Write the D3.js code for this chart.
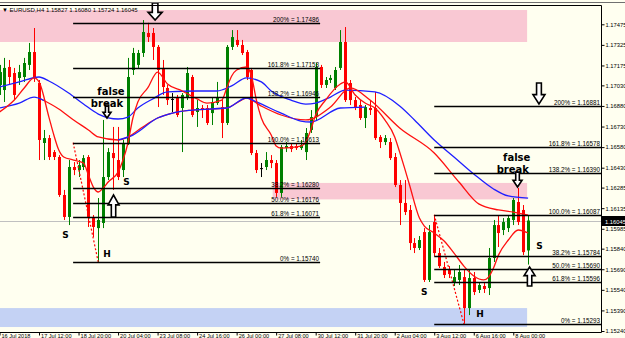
<!DOCTYPE html>
<html>
<head>
<meta charset="utf-8">
<script src="https://cdn.jsdelivr.net/npm/d3@7"></script>
<style>
    body { margin: 0; background: #fffff0; }
    svg { display: block; font-family: "Liberation Sans", Arial, sans-serif; }
</style>
</head>
<body>
<div id="chart"></div>
<script>
// EURUSD H4 bars, 16 Jul 04:00 .. 8 Aug 12:00 (index 0..107)
var barOpen = [1.17033,1.16996,1.17164,1.17120,1.17084,1.17091,1.17179,1.17273,1.17047,1.16610,
    1.16646,1.16544,1.16508,1.16231,1.16071,1.16435,1.16413,1.16435,1.16508,1.16071,
    1.15990,1.16027,1.16362,1.16537,1.16486,1.16413,1.16610,1.17142,1.17179,1.17266,
    1.17412,1.17412,1.17310,1.17157,1.17011,1.16931,1.16938,1.16865,1.16945,1.17091,
    1.16836,1.16865,1.16865,1.16828,1.16901,1.16872,1.16756,1.17310,1.17361,1.17324,
    1.17273,1.17142,1.16537,1.16427,1.16435,1.16486,1.16464,1.16246,1.16573,1.16588,
    1.16588,1.16573,1.16544,1.16705,1.16799,1.17164,1.17033,1.17069,1.17011,1.17157,
    1.17346,1.17047,1.16923,1.16887,1.16792,1.16865,1.16865,1.16654,1.16617,1.16617,
    1.16508,1.16304,1.16173,1.16122,1.15881,1.15845,1.15961,1.15612,1.16034,1.15808,
    1.15706,1.15685,1.15597,1.15612,1.15633,1.15407,1.15626,1.15539,1.15568,1.15553,
    1.15772,1.16012,1.15976,1.15990,1.16049,1.16180,1.16122,1.15827];
var barClose = [1.17127,1.17157,1.17091,1.16960,1.17127,1.17193,1.17273,1.17084,1.16632,1.16646,
    1.16508,1.16508,1.16231,1.16071,1.16435,1.16413,1.16449,1.16500,1.16071,1.15998,
    1.16049,1.16362,1.16544,1.16500,1.16362,1.16610,1.17091,1.17266,1.17266,1.17419,
    1.17382,1.17310,1.17142,1.17018,1.16923,1.16931,1.16814,1.16960,1.17120,1.16814,
    1.16865,1.16850,1.16756,1.16909,1.16945,1.16756,1.17310,1.17382,1.17324,1.17266,
    1.17091,1.16537,1.16413,1.16427,1.16486,1.16464,1.16246,1.16581,1.16588,1.16566,
    1.16573,1.16595,1.16683,1.16799,1.17164,1.17033,1.17069,1.17084,1.17142,1.17346,
    1.16923,1.16923,1.16872,1.16792,1.16872,1.16850,1.16646,1.16617,1.16646,1.16500,
    1.16304,1.16173,1.16107,1.15881,1.15845,1.15903,1.15612,1.15961,1.15808,1.15713,
    1.15648,1.15655,1.15633,1.15670,1.15407,1.15626,1.15524,1.15575,1.15546,1.15772,
    1.16012,1.15954,1.16034,1.16063,1.16195,1.16034,1.15815,1.16045];
var barHigh = [1.17179,1.17230,1.17215,1.17157,1.17179,1.17230,1.17339,1.17448,1.17069,1.16705,
    1.16668,1.16559,1.16522,1.16268,1.16486,1.16471,1.16486,1.16522,1.16522,1.16085,
    1.16209,1.16778,1.16573,1.16727,1.16727,1.16632,1.17230,1.17303,1.17288,1.17506,
    1.17486,1.17448,1.17324,1.17215,1.17033,1.16974,1.16960,1.16974,1.17164,1.17106,
    1.16923,1.16887,1.16887,1.16938,1.17055,1.16923,1.17324,1.17433,1.17433,1.17361,
    1.17288,1.17157,1.16559,1.16464,1.16544,1.16522,1.16486,1.16595,1.16617,1.16610,
    1.16610,1.16632,1.16719,1.16850,1.17193,1.17179,1.17091,1.17106,1.17164,1.17433,
    1.17455,1.17069,1.16945,1.16923,1.16887,1.16923,1.16982,1.16668,1.16668,1.16646,
    1.16537,1.16340,1.16340,1.16158,1.15917,1.15932,1.15990,1.16012,1.16085,1.15845,
    1.15743,1.15713,1.15685,1.15721,1.15685,1.15685,1.15670,1.15597,1.15590,1.15845,
    1.16049,1.16085,1.16063,1.16085,1.16209,1.16282,1.16158,1.16080];
var barLow = [1.16960,1.16909,1.17033,1.16923,1.17033,1.17055,1.17142,1.17055,1.16486,1.16486,
    1.16486,1.16486,1.16217,1.16049,1.16012,1.16376,1.16362,1.16413,1.15998,1.15925,
    1.15740,1.15990,1.16340,1.16268,1.16340,1.16362,1.16595,1.17106,1.17157,1.17237,
    1.17346,1.17215,1.16872,1.16960,1.16887,1.16836,1.16799,1.16544,1.16923,1.16799,
    1.16727,1.16792,1.16741,1.16741,1.16887,1.16646,1.16741,1.17288,1.17310,1.17251,
    1.17069,1.16522,1.16391,1.16362,1.16413,1.16427,1.16217,1.16217,1.16544,1.16544,
    1.16559,1.16559,1.16486,1.16683,1.16778,1.17011,1.17011,1.17047,1.16996,1.17142,
    1.16909,1.16887,1.16850,1.16778,1.16719,1.16814,1.16632,1.16573,1.16595,1.16486,
    1.16289,1.16012,1.16085,1.15830,1.15808,1.15830,1.15597,1.15597,1.15786,1.15699,
    1.15626,1.15626,1.15568,1.15575,1.15293,1.15356,1.15502,1.15517,1.15517,1.15502,
    1.15743,1.15852,1.15939,1.15961,1.16012,1.16012,1.15793,1.15724];

// moving averages, read at a subset of bars
var redFastIdx = [0,3,5,7,8,10,11,12,13,15,17,18,19,20,21,22,24,25,26,27,28,30,32,34,37,40,42,45,46,47,48,50,51,52,53,55,56,57,61,62,63,64,66,69,70,72,74,76,78,80,81,82,83,85,86,88,90,92,94,96,98,99,100,101,103,105,107];
var redFast = [1.16836,1.16923,1.17011,1.17084,1.17055,1.16799,1.16668,1.16559,1.16508,1.16486,1.16464,1.16376,1.16289,1.16253,1.16282,1.16326,1.16398,1.16486,1.16610,1.16792,1.16909,1.17011,1.17127,1.17040,1.16989,1.16931,1.16901,1.16923,1.17011,1.17098,1.17142,1.17164,1.17098,1.16923,1.16792,1.16668,1.16588,1.16573,1.16588,1.16617,1.16705,1.16814,1.16923,1.17040,1.17055,1.16960,1.16901,1.16865,1.16778,1.16654,1.16544,1.16427,1.16304,1.16063,1.16005,1.15954,1.15896,1.15808,1.15713,1.15641,1.15612,1.15633,1.15699,1.15793,1.15903,1.15976,1.15954];
var redSlowIdx = [8,12,15,18,20,24,26,29,32,35,39,46,49,50,53,57,62,67,71,75,81,88,93,97,101,104,107];
var redSlow = [1.16938,1.16858,1.16778,1.16705,1.16654,1.16632,1.16654,1.16727,1.16792,1.16828,1.16850,1.16865,1.16923,1.16938,1.16879,1.16814,1.16778,1.16872,1.17011,1.16923,1.16719,1.16537,1.16326,1.16166,1.16122,1.16107,1.16085];
var blueUpIdx = [0,4,8,10,14,17,20,24,26,28,31,34,40,44,47,50,53,55,59,62,64,67,70,76,81,84,88,92,96,100,103,107];
var blueUp = [1.17018,1.17055,1.17091,1.17062,1.16974,1.16894,1.16821,1.16785,1.16799,1.16865,1.16931,1.16982,1.16989,1.16989,1.17026,1.17084,1.17055,1.16989,1.16923,1.16894,1.16901,1.16945,1.16996,1.16982,1.16880,1.16778,1.16632,1.16508,1.16384,1.16275,1.16224,1.16209];
var blueLowIdx = [0,4,7,9,16,24,27,32,35,39,46,50,52,57,61,63,69,74];
var blueLow = [1.16865,1.16901,1.16945,1.16920,null,1.16632,1.16668,1.16792,1.16828,1.16850,1.16865,1.16938,1.16909,1.16828,1.16770,1.16763,1.16865,1.16872];

// fibonacci objects
var fibLevels = ["200%", "161.8%", "138.2%", "100.0%", "38.2%", "50.0%", "61.8%", "0%"];
var fibLeftPrices = [1.17486, 1.17153, 1.16946, 1.16613, 1.16280, 1.16176, 1.16071, 1.15740];
var fibRightPrices = [1.16881, 1.16578, 1.16390, 1.16087, 1.15784, 1.15690, 1.15596, 1.15293];

// axis ticks
var priceTicks = [1.17475, 1.17325, 1.17175, 1.17030, 1.16880, 1.16730, 1.16580, 1.16430,
    1.16285, 1.16135, 1.15985, 1.15840, 1.15690, 1.15540, 1.15390, 1.15240];
var timeTickIdx = [0, 8, 16, 24, 32, 40, 48, 56, 64, 72, 80, 88, 96, 104];
var timeLabels = ["16 Jul 2018", "17 Jul 12:00", "18 Jul 20:00", "20 Jul 04:00", "23 Jul 08:00",
    "24 Jul 16:00", "26 Jul 00:00", "27 Jul 08:00", "30 Jul 12:00", "31 Jul 20:00",
    "2 Aug 04:00", "3 Aug 12:00", "6 Aug 16:00", "8 Aug 00:00"];

var lastPrice = 1.16045;

var width = 625, height = 338;
var plotRight = 601, plotTop = 5, plotBottom = 332;

var x = d3.scaleLinear().domain([0, 107]).range([-0.5, 528.1]);
var y = d3.scaleLinear().domain([1.15240, 1.17475]).range([331, 24.3]);

var svg = d3.select("#chart")
    .append("svg")
    .attr("width", width)
    .attr("height", height);

svg.append("rect").attr("width", width).attr("height", height).attr("fill", "#fffff0");

svg.append("defs").append("clipPath").attr("id", "plot")
    .append("rect").attr("x", 0).attr("y", plotTop).attr("width", plotRight).attr("height", plotBottom - plotTop);

var plot = svg.append("g").attr("clip-path", "url(#plot)");

// zones (drawn as background)
var zones = [
    {from: 0, to: 106.8, top: 1.17579, bottom: 1.17346, color: "#f9c8d3"},
    {from: 55.3, to: 106.8, top: 1.16319, bottom: 1.16199, color: "#f9c8d3"},
    {from: 0, to: 106.8, top: 1.15407, bottom: 1.15269, color: "#c4d2f4"}
];
plot.selectAll("rect.zone")
    .data(zones)
    .enter()
    .append("rect")
    .attr("class", "zone")
    .attr("x", function (d) { return x(d.from); })
    .attr("width", function (d) { return x(d.to) - x(d.from); })
    .attr("y", function (d) { return y(d.top); })
    .attr("height", function (d) { return y(d.bottom) - y(d.top); })
    .attr("fill", function (d) { return d.color; });

// bid line
plot.append("line")
    .attr("x1", 0).attr("x2", plotRight)
    .attr("y1", Math.round(y(lastPrice)) + 0.5).attr("y2", Math.round(y(lastPrice)) + 0.5)
    .attr("stroke", "#c0c0c0");

// candles
var bars = d3.range(barOpen.length);
function barColor(i) {
    if (barClose[i] > barOpen[i]) return "#008000";
    if (barClose[i] < barOpen[i]) return "#ff0000";
    return "#000000";
}
var candle = plot.append("g").selectAll("g")
    .data(bars)
    .enter()
    .append("g");

candle.append("line")
    .attr("x1", function (i) { return Math.round(x(i)) + 0.5; })
    .attr("x2", function (i) { return Math.round(x(i)) + 0.5; })
    .attr("y1", function (i) { return y(barHigh[i]); })
    .attr("y2", function (i) { return y(barLow[i]); })
    .attr("stroke", barColor)
    .attr("stroke-width", 1);

candle.append("rect")
    .attr("x", function (i) { return Math.round(x(i)) - 1; })
    .attr("width", 3)
    .attr("y", function (i) { return y(Math.max(barOpen[i], barClose[i])); })
    .attr("height", function (i) { return Math.max(1, y(Math.min(barOpen[i], barClose[i])) - y(Math.max(barOpen[i], barClose[i]))); })
    .attr("fill", barColor);

// moving averages
var maLine = d3.line()
    .defined(function (d) { return d[1] != null; })
    .x(function (d) { return x(d[0]); })
    .y(function (d) { return y(d[1]); })
    .curve(d3.curveMonotoneX);

var maSeries = [
    {idx: blueUpIdx, val: blueUp, color: "#1f1fff"},
    {idx: redSlowIdx, val: redSlow, color: "#ff1010"},
    {idx: blueLowIdx, val: blueLow, color: "#1f1fff"},
    {idx: redFastIdx, val: redFast, color: "#ff1010"}
];
maSeries.forEach(function (s) {
    plot.append("path")
        .datum(d3.zip(s.idx, s.val))
        .attr("d", maLine)
        .attr("fill", "none")
        .attr("stroke", s.color)
        .attr("stroke-width", 1.3);
});

// zigzag between fib anchors
var zigzags = [
    [[14.9, fibLeftPrices[3]], [20, fibLeftPrices[7]]],
    [[88, fibRightPrices[3]], [94, fibRightPrices[7]]]
];
zigzags.forEach(function (z) {
    plot.append("line")
        .attr("x1", x(z[0][0])).attr("y1", y(z[0][1]))
        .attr("x2", x(z[1][0])).attr("y2", y(z[1][1]))
        .attr("stroke", "#ff0000")
        .attr("stroke-width", 1.2)
        .attr("stroke-dasharray", "2,2");
});

// fibonacci levels
function drawFib(prices, from, to) {
    var g = plot.append("g");
    g.selectAll("line")
        .data(prices)
        .enter()
        .append("line")
        .attr("x1", x(from)).attr("x2", x(to))
        .attr("y1", function (d) { return Math.round(y(d)) + 0.5; })
        .attr("y2", function (d) { return Math.round(y(d)) + 0.5; })
        .attr("stroke", "#000")
        .attr("stroke-width", 1.4);
    g.selectAll("text")
        .data(prices)
        .enter()
        .append("text")
        .attr("x", Math.min(x(to), plotRight) - 1)
        .attr("y", function (d) { return Math.round(y(d)) - 1; })
        .attr("text-anchor", "end")
        .attr("font-size", "6.3px")
        .attr("fill", "#000")
        .text(function (d, i) { return fibLevels[i] + " = " + d.toFixed(5); });
}
drawFib(fibLeftPrices, 14.9, 64.9);
drawFib(fibRightPrices, 88, 122);

// hollow block arrows
var arrows = [
    {i: 31.5, p: 1.17506, w: 14, h: 17, dir: 1},
    {i: 21.76, p: 1.16792, w: 8, h: 13, dir: 1},
    {i: 23.08, p: 1.16231, w: 11, h: 22, dir: -1},
    {i: 109.2, p: 1.16894, w: 12, h: 21, dir: 1},
    {i: 104.86, p: 1.16289, w: 9, h: 15, dir: 1},
    {i: 107.3, p: 1.15706, w: 11, h: 19, dir: -1}
];
function arrowPath(d) {
    var tx = x(d.i), ty = y(d.p), s = d.dir;
    var sw = d.w * 0.2, hw = d.w / 2, hh = d.h * 0.45;
    var pts = [[tx - sw, ty - s * d.h], [tx + sw, ty - s * d.h], [tx + sw, ty - s * hh],
        [tx + hw, ty - s * hh], [tx, ty], [tx - hw, ty - s * hh], [tx - sw, ty - s * hh]];
    return "M" + pts.map(function (p) { return p.join(","); }).join("L") + "Z";
}
svg.append("g").selectAll("path")
    .data(arrows)
    .enter()
    .append("path")
    .attr("d", arrowPath)
    .attr("fill", "#ffffff")
    .attr("stroke", "#000")
    .attr("stroke-width", 1.6)
    .attr("stroke-linejoin", "miter");

// text notes
var notes = [
    {i: 22.57, p: 1.16960, t: "false", s: 10},
    {i: 21.76, p: 1.16872, t: "break", s: 10},
    {i: 104.7, p: 1.16478, t: "false", s: 10},
    {i: 103.9, p: 1.16391, t: "break", s: 10},
    {i: 13.36, p: 1.15917, t: "S", s: 9},
    {i: 21.76, p: 1.15779, t: "H", s: 9},
    {i: 25.71, p: 1.16304, t: "S", s: 9},
    {i: 86.0, p: 1.15502, t: "S", s: 9},
    {i: 97.27, p: 1.15342, t: "H", s: 9},
    {i: 109.3, p: 1.15838, t: "S", s: 9}
];
svg.append("g").selectAll("text")
    .data(notes)
    .enter()
    .append("text")
    .attr("x", function (d) { return x(d.i); })
    .attr("y", function (d) { return y(d.p); })
    .attr("text-anchor", "middle")
    .attr("font-family", "'DejaVu Sans', sans-serif")
    .attr("font-weight", "bold")
    .attr("font-size", function (d) { return d.s + "px"; })
    .attr("fill", "#000")
    .text(function (d) { return d.t; });

// frame
svg.append("line").attr("x1", 0).attr("x2", width).attr("y1", 2.5).attr("y2", 2.5).attr("stroke", "#707070");
svg.append("path")
    .attr("d", "M0," + (plotTop + 0.5) + "H" + (plotRight + 0.5) + "V" + (plotBottom + 0.5) + "H0")
    .attr("fill", "none")
    .attr("stroke", "#000");

// price axis
var yAxis = svg.append("g")
    .attr("transform", "translate(" + (plotRight + 0.5) + ",0)")
    .call(d3.axisRight(y).tickValues(priceTicks).tickSize(3).tickPadding(1).tickFormat(d3.format(".5f")));
yAxis.select(".domain").remove();
yAxis.selectAll("text").attr("font-size", "5.8px").attr("font-family", "'Liberation Sans', Arial, sans-serif");

// last price box
var lp = svg.append("g").attr("transform", "translate(" + (plotRight + 1) + "," + Math.round(y(lastPrice)) + ")");
lp.append("rect").attr("x", 0).attr("y", -5).attr("width", width - plotRight).attr("height", 10).attr("fill", "#000");
lp.append("text").attr("x", 3).attr("y", 2.5).attr("fill", "#fff").attr("font-size", "5.8px").text(lastPrice.toFixed(5));

// time axis
var xAxis = svg.append("g")
    .attr("transform", "translate(0," + (plotBottom + 0.5) + ")")
    .call(d3.axisBottom(x).tickValues(timeTickIdx).tickSize(3).tickFormat(function (d, i) { return timeLabels[i]; }));
xAxis.select(".domain").remove();
xAxis.selectAll("text")
    .attr("text-anchor", "start")
    .attr("x", 1.5)
    .attr("y", 1.5)
    .attr("font-size", "5.6px")
    .attr("font-family", "'Liberation Sans', Arial, sans-serif");

// header
svg.append("text")
    .attr("x", 2).attr("y", 11.5)
    .attr("font-size", "6px")
    .attr("fill", "#000")
    .text("\u25BC EURUSD,H4 1.15827 1.16080 1.15724 1.16045");
</script>
</body>
</html>
